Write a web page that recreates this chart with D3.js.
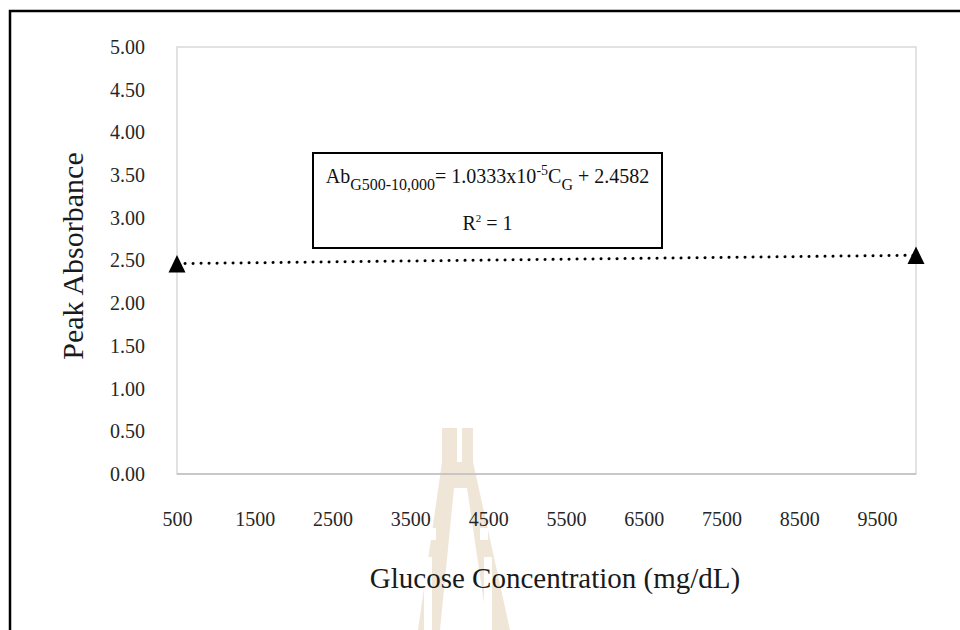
<!DOCTYPE html>
<html>
<head>
<meta charset="utf-8">
<script src="https://cdn.jsdelivr.net/npm/d3@7"></script>
<style>
  body { margin: 0; background: #fff; }
  svg text { font-family: "Liberation Serif", "Times New Roman", serif; }
</style>
</head>
<body>
<div id="chart"></div>
<script>
// data
var concentration = [500, 10000];
var absorbance = [2.46, 2.56];
var slope = 1.0333e-5;
var intercept = 2.4582;
var xTicks = [500, 1500, 2500, 3500, 4500, 5500, 6500, 7500, 8500, 9500];
var yTicks = [0, 0.5, 1, 1.5, 2, 2.5, 3, 3.5, 4, 4.5, 5];

var width = 960, height = 630;
var margin = { top: 47, right: 44, bottom: 156, left: 177 };

var svg = d3.select("#chart")
    .append("svg")
    .attr("width", width)
    .attr("height", height);

svg.append("rect").attr("width", width).attr("height", height).attr("fill", "#fff");

var x = d3.scaleLinear()
    .domain([500, 10000])
    .range([margin.left, width - margin.right]);

var y = d3.scaleLinear()
    .domain([0, 5])
    .range([height - margin.bottom, margin.top]);

// faint watermark behind the chart
var wm = svg.append("g").attr("fill", "#efe6d7");
wm.append("path").attr("d", "M442,428 L457,428 L457,462 L462,462 L462,428 L473,428 L473,462 L510,630 L488,630 L467,488 L454,488 L440,630 L418,630 L442,462 Z");
wm.append("g").attr("fill", "#fff")
    .selectAll("rect")
    .data([[428, 528, 8, 12], [424, 557, 8, 73], [480, 528, 8, 12], [484, 557, 8, 73]])
    .join("rect")
    .attr("x", d => d[0]).attr("y", d => d[1])
    .attr("width", d => d[2]).attr("height", d => d[3]);

// outer frame (only top and left visible)
svg.append("path")
    .attr("d", "M10,630 L10,11 L960,11")
    .attr("fill", "none")
    .attr("stroke", "#000")
    .attr("stroke-width", 2.5);

// plot area border
svg.append("rect")
    .attr("x", x.range()[0])
    .attr("y", y.range()[1])
    .attr("width", x.range()[1] - x.range()[0])
    .attr("height", y.range()[0] - y.range()[1])
    .attr("fill", "none")
    .attr("stroke", "#d9d9d9")
    .attr("stroke-width", 1.5);

svg.append("line")
    .attr("x1", x.range()[0]).attr("x2", x.range()[1])
    .attr("y1", y(0)).attr("y2", y(0))
    .attr("stroke", "#bfbfbf")
    .attr("stroke-width", 1.5);

// axes
var yAxis = svg.append("g")
    .attr("transform", `translate(${margin.left},0)`)
    .call(d3.axisLeft(y).tickValues(yTicks).tickFormat(d3.format(".2f")).tickSize(0).tickPadding(32));

var xAxis = svg.append("g")
    .attr("transform", `translate(0,${y(0)})`)
    .call(d3.axisBottom(x).tickValues(xTicks).tickFormat(d3.format("d")).tickSize(0).tickPadding(38));

[yAxis, xAxis].forEach(function (g) {
    g.select(".domain").remove();
    g.selectAll("text")
        .style("font-family", "'Liberation Serif', 'Times New Roman', serif")
        .style("font-size", "20px")
        .attr("fill", "#262626");
});

// axis titles
svg.append("text")
    .text("Peak Absorbance")
    .attr("transform", "translate(83,256) rotate(-90)")
    .attr("text-anchor", "middle")
    .style("font-size", "30px")
    .attr("fill", "#1a1a1a");

svg.append("text")
    .text("Glucose Concentration (mg/dL)")
    .attr("x", 555)
    .attr("y", 588)
    .attr("text-anchor", "middle")
    .style("font-size", "29px")
    .attr("fill", "#1a1a1a");

// linear trendline (dotted)
var line = d3.line()
    .x(function (d) { return x(d); })
    .y(function (d) { return y(slope * d + intercept); });

svg.append("path")
    .datum(concentration)
    .attr("d", line)
    .attr("fill", "none")
    .attr("stroke", "#000")
    .attr("stroke-width", 3)
    .attr("stroke-linecap", "round")
    .attr("stroke-dasharray", "0.1 7.9");

// triangle markers
svg.selectAll(".pt")
    .data(d3.zip(concentration, absorbance))
    .join("path")
    .attr("class", "pt")
    .attr("d", "M0,-8.8 L8.5,8.6 L-8.5,8.6 Z")
    .attr("transform", function (d) { return `translate(${x(d[0])},${y(d[1])})`; })
    .attr("fill", "#000");

// equation box
svg.append("rect")
    .attr("x", 313).attr("y", 153)
    .attr("width", 349).attr("height", 95)
    .attr("fill", "#fff")
    .attr("stroke", "#000")
    .attr("stroke-width", 2);

var eq = svg.append("text")
    .attr("x", 487.5).attr("y", 183)
    .attr("text-anchor", "middle")
    .style("font-size", "20px")
    .attr("fill", "#111");
eq.append("tspan").text("Ab");
eq.append("tspan").text("G500-10,000").style("font-size", "16px").attr("dy", 7);
eq.append("tspan").text("= 1.0333x10").attr("dy", -7);
eq.append("tspan").text("-5").style("font-size", "14px").attr("dy", -8);
eq.append("tspan").text("C").attr("dy", 8);
eq.append("tspan").text("G").style("font-size", "16px").attr("dy", 7);
eq.append("tspan").text(" + 2.4582").attr("dy", -7);

var r2 = svg.append("text")
    .attr("x", 487.5).attr("y", 230)
    .attr("text-anchor", "middle")
    .style("font-size", "20px")
    .attr("fill", "#111");
r2.append("tspan").text("R");
r2.append("tspan").text("2").style("font-size", "11px").attr("dy", -8);
r2.append("tspan").text(" = 1").attr("dy", 8);
</script>
</body>
</html>
